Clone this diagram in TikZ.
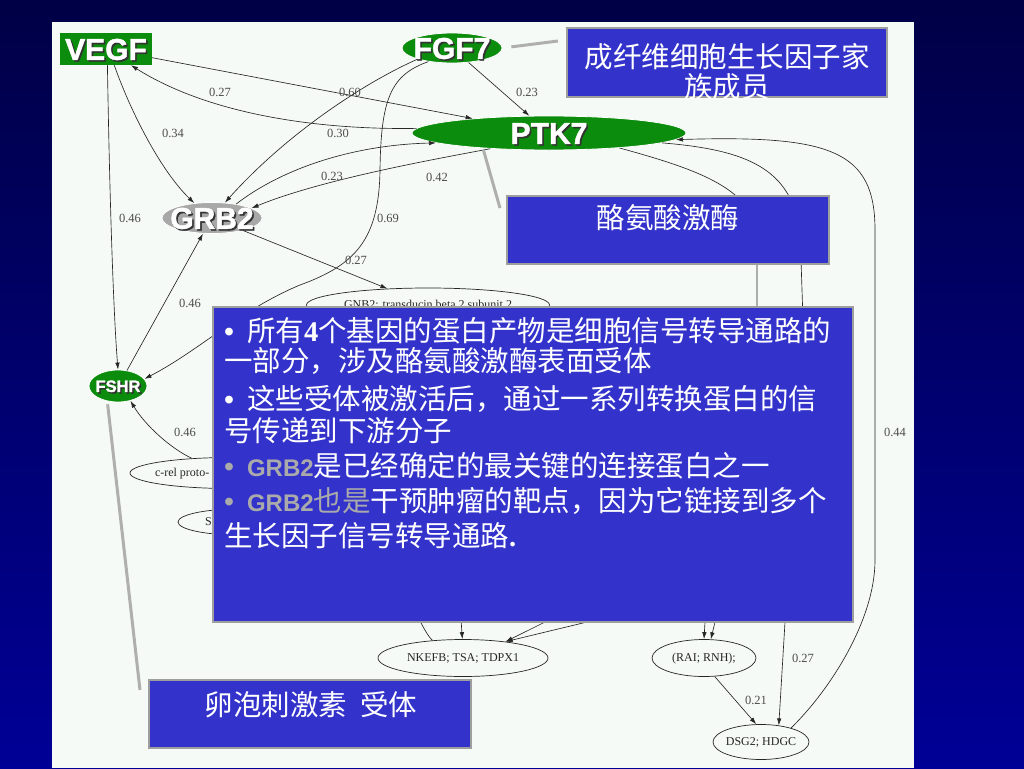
\documentclass[tikz,border=0pt]{standalone}
\usepackage{fontspec}
\setmainfont{Liberation Serif}
\newfontfamily\cjk{Noto Sans CJK SC}
\newfontfamily\arialf{Liberation Sans}
\newfontfamily\heavyfont{Liberation Sans Bold}[FakeBold=1.5]
\usetikzlibrary{shapes.geometric,arrows.meta}
\definecolor{bgtop}{RGB}{0,0,70}
\definecolor{bgbot}{RGB}{0,0,150}
\definecolor{panel}{RGB}{245,250,246}
\definecolor{gnode}{RGB}{12,140,12}
\definecolor{grnode}{RGB}{168,168,168}
\definecolor{boxblue}{RGB}{51,51,204}
\definecolor{boxrim}{RGB}{158,158,158}
\definecolor{grbtext}{RGB}{170,170,170}
\definecolor{callgray}{RGB}{175,175,175}
\newcommand\shd[1]{\makebox[0pt]{\smash{\raisebox{-0.36em}{\rlap{\kern1.6pt\raisebox{-1.6pt}{\color{black!80}#1}}#1}}}}
\newcommand\ctr[1]{\makebox[0pt]{\smash{\raisebox{-0.33em}{#1}}}}
\tikzset{
  gbox/.style={rectangle, fill=gnode, inner sep=0pt, text=white, font=\heavyfont\fontsize{30}{30}\selectfont},
  gell/.style={ellipse, fill=gnode, draw=white, line width=0.8pt, inner sep=0pt, text=white, font=\heavyfont\fontsize{30}{30}\selectfont},
  gene/.style={ellipse, draw=black!85, line width=0.7pt, fill=panel, inner sep=0pt, text=black!85, font=\fontsize{12}{12}\selectfont},
  arr/.style={draw=black!85, line width=0.65pt, -{Latex[length=7pt,width=4.5pt]}},
  wt/.style={inner sep=1pt, text=black!70, font=\fontsize{12.5}{12.5}\selectfont},
  callbox/.style={rectangle, fill=boxblue, draw=boxrim, line width=2.5pt, inner sep=0pt},
  calltxt/.style={text=white, inner sep=0pt, align=center, font=\cjk\fontsize{28.5}{30}\selectfont},
  bigtxt/.style={text=white, inner sep=0pt, text width=630pt, align=left, font=\cjk\fontsize{28.5}{32}\selectfont},
  calline/.style={draw=callgray, line width=3pt}
}
\begin{document}
\begin{tikzpicture}[x=1pt,y=-1pt]
\useasboundingbox (0,0) rectangle (1024,768);
\shade[top color=bgtop, bottom color=bgbot] (0,0) rectangle (1024,768);
\fill[panel] (52,22) rectangle (914,768);

% main nodes
\node[gbox, minimum width=92pt, minimum height=32pt] (vegf) at (106,49) {\shd{VEGF}};
\node[gell, minimum width=100pt, minimum height=30pt] (fgf7) at (452,48) {\shd{FGF7}};
\node[gell, minimum width=274pt, minimum height=34pt] (ptk7) at (549,133) {\shd{PTK7}};
\node[gell, fill=grnode, minimum width=100pt, minimum height=31pt] (grb2) at (212,218) {\shd{GRB2}};
\node[gell, minimum width=58pt, minimum height=32pt, font=\heavyfont\fontsize{16.5}{16.5}\selectfont] (fshr) at (118,386) {\shd{FSHR}};

% gene nodes
\node[gene, minimum width=243pt, minimum height=34pt] (gnb2) at (428,305) {\ctr{GNB2: transducin beta 2 subunit 2}};
\node[gene, minimum width=200pt, minimum height=31pt] (crel) at (230,473) {\makebox[0pt][l]{\hspace*{-75pt}\smash{\raisebox{-0.33em}{c-rel proto-}}}};
\node[gene, minimum width=120pt, minimum height=26pt] (sg) at (238,522) {\makebox[0pt][l]{\hspace*{-33pt}\smash{\raisebox{-0.33em}{S}}}};
\node[gene, minimum width=170pt, minimum height=37pt] (nkefb) at (463,658) {\ctr{NKEFB; TSA; TDPX1}};
\node[gene, minimum width=104pt, minimum height=37pt] (rai) at (704,658) {\ctr{(RAI; RNH);}};
\node[gene, minimum width=96pt, minimum height=35pt] (dsg2) at (761,742) {\ctr{DSG2; HDGC}};

% edges
\draw[arr] (vegf) -- (ptk7);
\draw[arr] (ptk7.178) .. controls (320,130) and (210,115) .. (vegf.-33);
\draw[arr] (vegf.-63) .. controls (130,110) and (160,170) .. (grb2.140);
\draw[arr] (vegf.-85) .. controls (110,220) and (114,320) .. (fshr.north);
\draw[arr] (fgf7.198) .. controls (370,80) and (290,130) .. (grb2.50);
\draw[arr] (fgf7) -- (ptk7);
\draw[arr] (fgf7.210) .. controls (390,75) and (381,100) .. (380,170) .. controls (379,240) and (355,265) .. (300,285) .. controls (240,310) and (200,350) .. (fshr.15);
\draw[arr] (grb2.30) .. controls (280,170) and (350,145) .. (ptk7.185);
\draw[arr] (ptk7.195) .. controls (430,160) and (320,180) .. (grb2.14);
\draw[arr] (grb2) -- (gnb2);
\draw[arr] (fshr.60) -- (grb2.240);
\draw[arr] (crel.159) .. controls (170,448) and (145,425) .. (fshr.-50);
\draw[arr] (dsg2.25) .. controls (830,690) and (875,620) .. (875,560) -- (875,230) .. controls (875,150) and (830,135) .. (ptk7.-3);
\draw[arr] (ptk7.-12) .. controls (700,170) and (757,190) .. (757,240) -- (757,330) .. controls (757,560) and (716,590) .. (715,622) -- (rai.70);
\draw[arr] (ptk7.-5) .. controls (750,150) and (790,170) .. (800,230) -- (803,320) .. controls (800,450) and (786,540) .. (785,622) -- (dsg2.43);
\draw[arr] (gnb2.-20) .. controls (650,400) and (705,560) .. (705,622) -- (rai.90);
\draw[arr] (rai.-60) -- (dsg2.105);
\draw[arr] (gnb2.-95) .. controls (455,450) and (457,560) .. (nkefb.92);
\draw[arr] (crel.-5) .. controls (450,520) and (545,560) .. (545,622) -- (nkefb.21);
\draw[arr] (sg.-5) .. controls (450,560) and (590,580) .. (587,622) -- (nkefb.21);
\draw[arr] (nkefb.150) .. controls (415,625) and (400,540) .. (crel.-20);

% edge weights
\node[wt] (w1) at (220,92) {0.27};
\node[wt] (w2) at (350,92) {0.60};
\node[wt] (w3) at (527,92) {0.23};
\node[wt] (w4) at (173,133) {0.34};
\node[wt] (w5) at (338,133) {0.30};
\node[wt] (w6) at (332,176) {0.23};
\node[wt] (w7) at (437,177) {0.42};
\node[wt] (w8) at (130,218) {0.46};
\node[wt] (w9) at (388,218) {0.69};
\node[wt] (w10) at (356,260) {0.27};
\node[wt] (w11) at (190,303) {0.46};
\node[wt] (w12) at (185,432) {0.46};
\node[wt] (w13) at (895,432) {0.44};
\node[wt] (w14) at (803,658) {0.27};
\node[wt] (w15) at (756,700) {0.21};

% callouts
\coordinate (k1) at (558,41);
\draw[calline, shorten <=9pt] (fgf7.east) -- (k1);
\coordinate (k2) at (500,208);
\draw[calline, shorten <=2pt] (ptk7.193) -- (k2);
\coordinate (k3) at (140,690);
\draw[calline, shorten <=3pt] (fshr.-125) -- (k3);

\node[callbox, minimum width=320pt, minimum height=69pt] (cb1) at (727,62.5) {};
\node[calltxt] (cb1t) at (727,72) {成纤维细胞生长因子家\\族成员};
\node[callbox, minimum width=322pt, minimum height=68pt] (cb2) at (668,230) {};
\node[calltxt] (cb2t) at (668,218) {酪氨酸激酶};
\node[callbox, minimum width=640pt, minimum height=315pt] (cb3) at (533,464.5) {};
\node[bigtxt, anchor=north west] (cb3t) at (224,317) {%
{\arialf •}\hspace{0.45em}所有{\rmfamily\bfseries 4}个基因的蛋白产物是细胞信号转导通路的\\[-2pt]
一部分，涉及酪氨酸激酶表面受体\\[6pt]
{\arialf •}\hspace{0.45em}这些受体被激活后，通过一系列转换蛋白的信\\
号传递到下游分子\\[3pt]
{\color{grbtext}\arialf •\hspace{0.45em}\bfseries\fontsize{24}{32}\selectfont GRB2}是已经确定的最关键的连接蛋白之一\\[3pt]
{\color{grbtext}\arialf •\hspace{0.45em}{\bfseries\fontsize{24}{32}\selectfont GRB2}\cjk 也是}干预肿瘤的靶点，因为它链接到多个\\[3pt]
生长因子信号转导通路{\rmfamily\bfseries .}};
\node[callbox, minimum width=322pt, minimum height=68pt] (cb4) at (310,714) {};
\node[calltxt] (cb4t) at (311,705) {卵泡刺激素\hspace{0.45em}受体};
\end{tikzpicture}
\end{document}
